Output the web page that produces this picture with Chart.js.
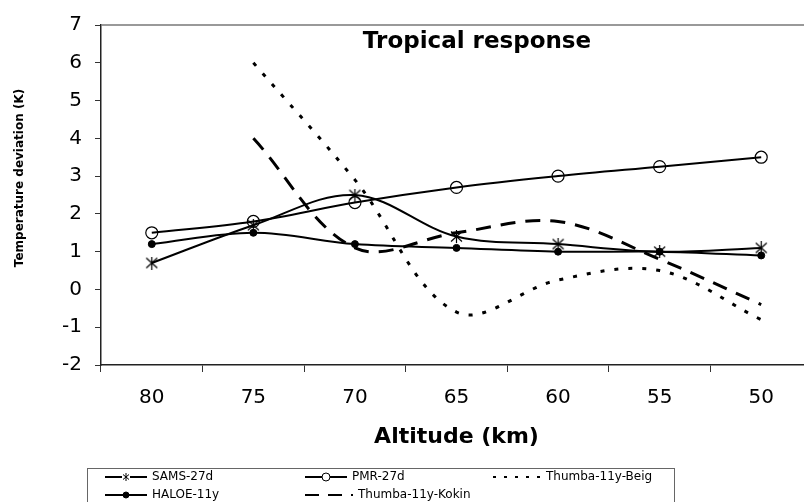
<!DOCTYPE html>
<html>
<head>
<meta charset="utf-8">
<script src="https://cdn.jsdelivr.net/npm/chart.js@4.4.0/dist/chart.umd.min.js"></script>
<style>
  html, body { margin: 0; padding: 0; overflow: hidden; background: #fff; }
  canvas { display: block; }
</style>
</head>
<body>
<canvas id="chart" width="820" height="502"></canvas>
<script>
//datos
const altitudes = ["80", "75", "70", "65", "60", "55", "50"];
const samsValues = [0.7, 1.7, 2.5, 1.4, 1.2, 1.0, 1.1];
const pmrValues = [1.5, 1.8, 2.3, 2.7, 3.0, 3.25, 3.5];
const haloeValues = [1.2, 1.5, 1.2, 1.1, 1.0, 1.0, 0.9];
const beigValues = [null, 6.0, 2.9, -0.6, 0.25, 0.5, -0.8];
const kokinValues = [null, 4.0, 1.1, 1.5, 1.8, 0.8, -0.4];
const yMin = -2;
const yMax = 7;

const fontFamily = "'DejaVu Sans', Verdana, sans-serif";

//marcador tipo asterisco (X con linea vertical)
const makeStar = (size, lw) => {
  const c = document.createElement("canvas");
  c.width = size;
  c.height = size;
  const g = c.getContext("2d");
  g.strokeStyle = "#000";
  g.lineWidth = lw;
  g.beginPath();
  g.moveTo(1, 1.5); g.lineTo(size - 1, size - 1.5);
  g.moveTo(size - 1, 1.5); g.lineTo(1, size - 1.5);
  g.moveTo(size / 2, 0); g.lineTo(size / 2, size);
  g.stroke();
  return c;
};

const starBig = makeStar(13, 1.2);
const starSmall = makeStar(8, 1);

const datasets = [
  {
    label: "SAMS-27d", data: samsValues,
    borderColor: "#000", borderWidth: 2, tension: 0.35,
    pointStyle: starBig, pointRadius: 6
  },
  {
    label: "PMR-27d", data: pmrValues,
    borderColor: "#000", borderWidth: 2, tension: 0.35,
    pointStyle: "circle", pointRadius: 6, pointBorderWidth: 1.2,
    pointBorderColor: "#000", pointBackgroundColor: "rgba(0,0,0,0)"
  },
  {
    label: "Thumba-11y-Beig", data: beigValues,
    borderColor: "#000", borderWidth: 3, tension: 0.35,
    borderDash: [4, 10], pointRadius: 0
  },
  {
    label: "HALOE-11y", data: haloeValues,
    borderColor: "#000", borderWidth: 2, tension: 0.35,
    pointStyle: "circle", pointRadius: 3.5, pointBorderWidth: 1,
    pointBorderColor: "#000", pointBackgroundColor: "#000"
  },
  {
    label: "Thumba-11y-Kokin", data: kokinValues,
    borderColor: "#000", borderWidth: 3, tension: 0.35,
    borderDash: [15, 10], pointRadius: 0
  }
];

//marco superior del area del grafico
const framePlugin = {
  id: "frame",
  beforeDatasetsDraw(chart) {
    const { ctx, chartArea } = chart;
    ctx.save();
    ctx.strokeStyle = "#777";
    ctx.lineWidth = 1.5;
    ctx.beginPath();
    ctx.moveTo(chartArea.left, chartArea.top);
    ctx.lineTo(chartArea.right, chartArea.top);
    ctx.stroke();
    ctx.restore();
  }
};

//titulo dentro del area y titulo del eje y
const textPlugin = {
  id: "texts",
  afterDraw(chart) {
    const { ctx } = chart;
    ctx.save();
    ctx.fillStyle = "#000";
    ctx.textAlign = "center";
    ctx.textBaseline = "middle";
    ctx.font = "bold 23px " + fontFamily;
    ctx.fillText("Tropical response", 477, 42);
    ctx.translate(20, 178);
    ctx.rotate(-Math.PI / 2);
    ctx.font = "bold 12px " + fontFamily;
    ctx.fillText("Temperature deviation (K)", 0, 0);
    ctx.restore();
  }
};

//leyenda en recuadro, dos filas
const legendSlots = [
  { x: 105, y: 477 }, { x: 305, y: 477 }, { x: 493, y: 477 },
  { x: 105, y: 495 }, { x: 305, y: 495 }
];
const legendDash = { "Thumba-11y-Beig": [3, 8], "Thumba-11y-Kokin": [14, 9] };

const legendPlugin = {
  id: "boxLegend",
  afterDraw(chart) {
    const { ctx } = chart;
    ctx.save();
    ctx.strokeStyle = "#666";
    ctx.lineWidth = 1;
    ctx.strokeRect(87.5, 468.5, 587, 40);
    chart.data.datasets.forEach((ds, i) => {
      const slot = legendSlots[i];
      const dash = legendDash[ds.label];
      const len = dash ? 48 : 42;
      ctx.strokeStyle = "#000";
      ctx.lineWidth = 2;
      ctx.setLineDash(dash || []);
      ctx.beginPath();
      ctx.moveTo(slot.x, slot.y);
      ctx.lineTo(slot.x + len, slot.y);
      ctx.stroke();
      ctx.setLineDash([]);
      const cx = slot.x + 21;
      if (ds.pointStyle === starBig) {
        ctx.fillStyle = "#fff";
        ctx.fillRect(cx - 4, slot.y - 4, 8, 8);
        ctx.drawImage(starSmall, cx - 4, slot.y - 4);
      } else if (ds.pointStyle === "circle") {
        const r = ds.pointRadius > 4 ? 4 : 3;
        ctx.beginPath();
        ctx.arc(cx, slot.y, r, 0, Math.PI * 2);
        ctx.fillStyle = ds.pointBackgroundColor === "#000" ? "#000" : "#fff";
        ctx.fill();
        ctx.lineWidth = 1;
        ctx.stroke();
      }
      ctx.fillStyle = "#000";
      ctx.font = "12px " + fontFamily;
      ctx.textAlign = "left";
      ctx.textBaseline = "middle";
      ctx.fillText(ds.label, slot.x + len + 5, slot.y);
    });
    ctx.restore();
  }
};

const config = {
  type: "line",
  data: { labels: altitudes, datasets },
  options: {
    responsive: false,
    animation: false,
    devicePixelRatio: 1,
    layout: { padding: { top: 20, right: 7, bottom: 52, left: 0 } },
    plugins: {
      legend: { display: false },
      tooltip: { enabled: false }
    },
    scales: {
      x: {
        offset: true,
        grid: { offset: true, drawOnChartArea: false, tickLength: 7, color: "#333", lineWidth: 1 },
        border: { color: "#222", width: 1.5 },
        ticks: { font: { family: fontFamily, size: 20 }, color: "#000", padding: 14, maxRotation: 0, autoSkip: false },
        title: {
          display: true, text: "Altitude (km)", color: "#000", padding: 0,
          font: { family: fontFamily, size: 22, weight: "bold" }
        },
        afterFit: (scale) => { scale.height = 85; }
      },
      y: {
        min: yMin,
        max: yMax,
        grid: { drawOnChartArea: false, tickLength: 6, color: "#333", lineWidth: 1 },
        border: { color: "#222", width: 1.5 },
        ticks: { stepSize: 1, font: { family: fontFamily, size: 20 }, color: "#000", padding: 13 },
        afterFit: (scale) => { scale.width = 101; }
      }
    }
  },
  plugins: [framePlugin, textPlugin, legendPlugin]
};

const myChart = new Chart(document.getElementById("chart"), config);
</script>
</body>
</html>
